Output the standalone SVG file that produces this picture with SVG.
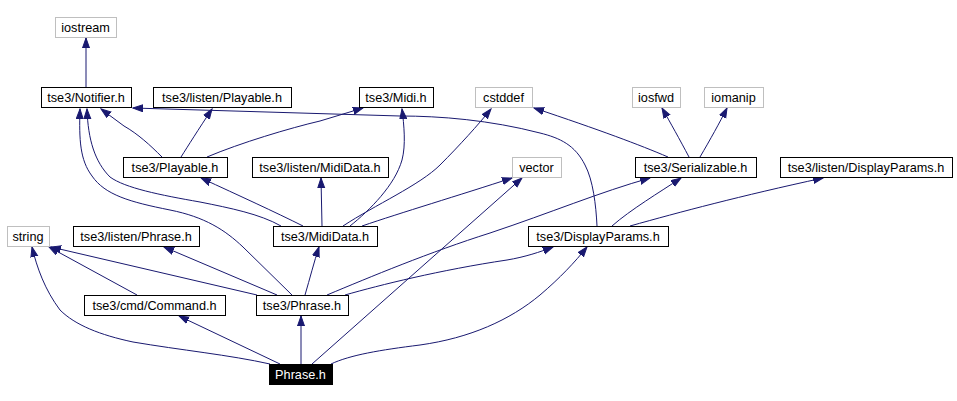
<svg xmlns="http://www.w3.org/2000/svg" width="957" height="401" viewBox="0 0 957 401">
<style>
.n rect{fill:#fff;stroke:#000;stroke-width:1;shape-rendering:crispEdges}
.n.g rect{stroke:#bfbfbf}
.n text{font-family:"Liberation Sans",Arial,sans-serif;font-size:12.7px;fill:#000;text-anchor:middle}
.n.b rect{fill:#000;stroke:#000}
.n.b text{fill:#fff}
.e path{fill:none;stroke:#191970;stroke-width:1;marker-end:url(#a)}
</style>
<defs>
<marker id="a" markerWidth="11" markerHeight="9" refX="10" refY="4" orient="auto" markerUnits="userSpaceOnUse">
<path d="M0,0.5 L10,4 L0,7.5 z" fill="#191970" stroke="#191970" stroke-width="1"/>
</marker>
</defs>
<rect width="957" height="401" fill="#fff"/>
<g id="edges" class="e">
<path d="M86,87 L86,38"/>
<path d="M162,157 C150,145 138,134 124,126 L101,109"/>
<path d="M181,157 C188,146 198,130 212,109"/>
<path d="M207,157 C240,143 290,128 320,121 L363,108"/>
<path d="M303,226 C275,212 240,196 201,178"/>
<path d="M281,226 C260,214 230,208 200,202 C160,195 125,188 110,177 C95,162 88,140 87,109"/>
<path d="M292,295 L243,247 C225,230 205,217 170,210 C130,202 105,195 92,176 C80,160 79,140 80,109"/>
<path d="M322,226 L321,178"/>
<path d="M350,226 C370,210 395,185 402,160 C406,145 404,125 402,109"/>
<path d="M343,226 C375,205 420,185 440,165 C460,145 478,125 491,109"/>
<path d="M362,226 C400,213 460,195 512,178"/>
<path d="M312,364 L522,178"/>
<path d="M668,157 C640,145 600,130 534,108"/>
<path d="M689,157 C680,140 670,122 662,108"/>
<path d="M700,157 C710,140 720,122 727,108"/>
<path d="M612,226 C630,210 660,192 681,178"/>
<path d="M630,226 C680,212 740,196 823,178"/>
<path d="M597,226 C596,205 593,180 585,165 C575,145 560,138 540,133 C490,120 440,116 400,116 L133,108"/>
<path d="M257,295 L51,247"/>
<path d="M277,295 L164,247"/>
<path d="M137,295 L49,247"/>
<path d="M305,295 C310,278 314,262 319,247"/>
<path d="M327,295 C370,277 430,252 490,233 C550,213 600,192 650,178"/>
<path d="M345,295 C380,285 440,270 507,260 C525,257 540,252 553,247"/>
<path d="M270,364 C230,355 180,350 133,342 C100,335 75,325 60,310 C45,290 37,268 32,247"/>
<path d="M280,364 L179,316"/>
<path d="M301,364 L301,316"/>
<path d="M331,364 C350,355 380,350 420,345 C470,338 510,320 540,295 C560,278 575,262 587,247"/>
</g>
<g id="iostream" class="n g"><rect x="55" y="17" width="61" height="20"/><text x="85.5" y="32">iostream</text></g>
<g id="notifier" class="n"><rect x="41" y="87" width="90" height="20"/><text x="86" y="102">tse3/Notifier.h</text></g>
<g id="listen_playable" class="n"><rect x="153" y="87" width="138" height="20"/><text x="222" y="102">tse3/listen/Playable.h</text></g>
<g id="midi" class="n"><rect x="359" y="87" width="74" height="20"/><text x="396" y="102">tse3/Midi.h</text></g>
<g id="cstddef" class="n g"><rect x="475" y="87" width="57" height="20"/><text x="503.5" y="102">cstddef</text></g>
<g id="iosfwd" class="n g"><rect x="632" y="87" width="48" height="20"/><text x="656" y="102">iosfwd</text></g>
<g id="iomanip" class="n g"><rect x="704" y="87" width="59" height="20"/><text x="733.5" y="102">iomanip</text></g>
<g id="playable" class="n"><rect x="123" y="157" width="104" height="20"/><text x="175" y="172">tse3/Playable.h</text></g>
<g id="listen_mididata" class="n"><rect x="252" y="157" width="136" height="20"/><text x="320" y="172">tse3/listen/MidiData.h</text></g>
<g id="vector" class="n g"><rect x="512" y="157" width="49" height="20"/><text x="536.5" y="172">vector</text></g>
<g id="serializable" class="n"><rect x="635" y="157" width="121" height="20"/><text x="695.5" y="172">tse3/Serializable.h</text></g>
<g id="listen_displayparams" class="n"><rect x="780" y="157" width="172" height="20"/><text x="866" y="172">tse3/listen/DisplayParams.h</text></g>
<g id="string" class="n g"><rect x="7" y="226" width="42" height="20"/><text x="28" y="241">string</text></g>
<g id="listen_phrase" class="n"><rect x="73" y="226" width="126" height="20"/><text x="136" y="241">tse3/listen/Phrase.h</text></g>
<g id="mididata" class="n"><rect x="273" y="226" width="104" height="20"/><text x="325" y="241">tse3/MidiData.h</text></g>
<g id="displayparams" class="n"><rect x="528" y="226" width="140" height="20"/><text x="598" y="241">tse3/DisplayParams.h</text></g>
<g id="command" class="n"><rect x="84" y="295" width="141" height="20"/><text x="154.5" y="310">tse3/cmd/Command.h</text></g>
<g id="tse3_phrase" class="n"><rect x="256" y="295" width="92" height="20"/><text x="302" y="310">tse3/Phrase.h</text></g>
<g id="phrase" class="n b"><rect x="269" y="364" width="63" height="20"/><text x="300.5" y="379">Phrase.h</text></g>
</svg>
